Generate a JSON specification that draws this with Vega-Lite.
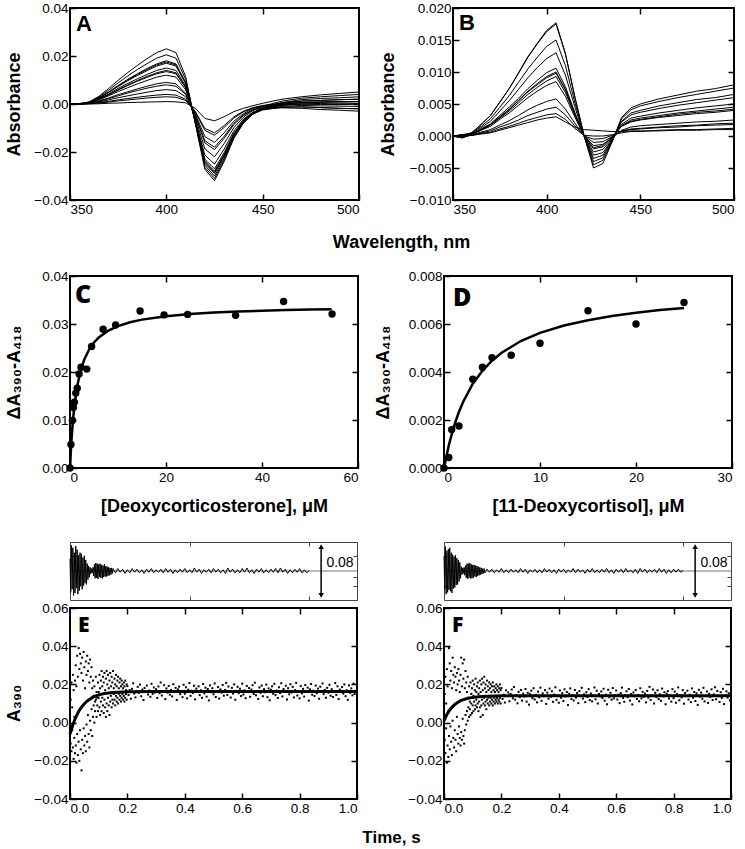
{
"$schema":"https://vega.github.io/schema/vega-lite/v6.json",
"padding":{"left":4,"top":0,"right":0,"bottom":0},
"background":"white",
"config":{"view":{"stroke":"black","strokeWidth":2},"font":"Liberation Sans",
"axis":{"domain":false,"grid":false,"ticks":true,"tickSize":-6,"tickWidth":1.5,"tickColor":"black","labelPadding":8,"labelFont":"Liberation Sans","labelFontSize":13.5,"labelColor":"black","titleFont":"Liberation Sans","titleFontSize":18,"titleFontWeight":"bold","titleColor":"black"}},
"datasets":{
"specA":[
{"c":1,"w":350,"y":0},{"c":1,"w":355,"y":0.0002},{"c":1,"w":360,"y":0.0009},{"c":1,"w":365,"y":0.0032},{"c":1,"w":370,"y":0.0064},{"c":1,"w":375,"y":0.0099},{"c":1,"w":380,"y":0.0131},{"c":1,"w":385,"y":0.0161},{"c":1,"w":390,"y":0.0189},{"c":1,"w":395,"y":0.0214},{"c":1,"w":400,"y":0.023},{"c":1,"w":405,"y":0.0214},{"c":1,"w":410,"y":0.0115},{"c":1,"w":415,"y":-0.008},{"c":1,"w":420,"y":-0.0272},{"c":1,"w":425,"y":-0.032},{"c":1,"w":430,"y":-0.024},{"c":1,"w":435,"y":-0.0144},{"c":1,"w":440,"y":-0.008},{"c":1,"w":445,"y":-0.0042},{"c":1,"w":450,"y":-0.0022},{"c":1,"w":460,"y":-0.0006},{"c":1,"w":470,"y":0},{"c":1,"w":480,"y":0},{"c":1,"w":490,"y":-0.0003},{"c":1,"w":500,"y":0.0002},
{"c":2,"w":350,"y":0},{"c":2,"w":355,"y":-0.0002},{"c":2,"w":360,"y":0.0008},{"c":2,"w":365,"y":0.0029},{"c":2,"w":370,"y":0.0057},{"c":2,"w":375,"y":0.0088},{"c":2,"w":380,"y":0.0117},{"c":2,"w":385,"y":0.0144},{"c":2,"w":390,"y":0.0168},{"c":2,"w":395,"y":0.0191},{"c":2,"w":400,"y":0.0205},{"c":2,"w":405,"y":0.0191},{"c":2,"w":410,"y":0.0103},{"c":2,"w":415,"y":-0.0078},{"c":2,"w":420,"y":-0.0264},{"c":2,"w":425,"y":-0.031},{"c":2,"w":430,"y":-0.0233},{"c":2,"w":435,"y":-0.014},{"c":2,"w":440,"y":-0.0078},{"c":2,"w":445,"y":-0.0041},{"c":2,"w":450,"y":-0.0025},{"c":2,"w":460,"y":-0.0014},{"c":2,"w":470,"y":-0.0012},{"c":2,"w":480,"y":-0.0015},{"c":2,"w":490,"y":-0.0018},{"c":2,"w":500,"y":-0.002},
{"c":3,"w":350,"y":0},{"c":3,"w":355,"y":0.0001},{"c":3,"w":360,"y":0.0007},{"c":3,"w":365,"y":0.0025},{"c":3,"w":370,"y":0.005},{"c":3,"w":375,"y":0.0077},{"c":3,"w":380,"y":0.0103},{"c":3,"w":385,"y":0.0126},{"c":3,"w":390,"y":0.0148},{"c":3,"w":395,"y":0.0167},{"c":3,"w":400,"y":0.018},{"c":3,"w":405,"y":0.0167},{"c":3,"w":410,"y":0.009},{"c":3,"w":415,"y":-0.0075},{"c":3,"w":420,"y":-0.0255},{"c":3,"w":425,"y":-0.03},{"c":3,"w":430,"y":-0.0225},{"c":3,"w":435,"y":-0.0135},{"c":3,"w":440,"y":-0.0075},{"c":3,"w":445,"y":-0.0038},{"c":3,"w":450,"y":-0.0017},{"c":3,"w":460,"y":0.0006},{"c":3,"w":470,"y":0.0018},{"c":3,"w":480,"y":0.0023},{"c":3,"w":490,"y":0.0026},{"c":3,"w":500,"y":0.003},
{"c":4,"w":350,"y":0},{"c":4,"w":355,"y":0},{"c":4,"w":360,"y":0.0007},{"c":4,"w":365,"y":0.0025},{"c":4,"w":370,"y":0.0049},{"c":4,"w":375,"y":0.0075},{"c":4,"w":380,"y":0.01},{"c":4,"w":385,"y":0.0123},{"c":4,"w":390,"y":0.0144},{"c":4,"w":395,"y":0.0163},{"c":4,"w":400,"y":0.0175},{"c":4,"w":405,"y":0.0163},{"c":4,"w":410,"y":0.0088},{"c":4,"w":415,"y":-0.0073},{"c":4,"w":420,"y":-0.0247},{"c":4,"w":425,"y":-0.029},{"c":4,"w":430,"y":-0.0218},{"c":4,"w":435,"y":-0.0131},{"c":4,"w":440,"y":-0.0073},{"c":4,"w":445,"y":-0.0037},{"c":4,"w":450,"y":-0.0019},{"c":4,"w":460,"y":-0.0002},{"c":4,"w":470,"y":0.0006},{"c":4,"w":480,"y":0.0008},{"c":4,"w":490,"y":0.0009},{"c":4,"w":500,"y":0.001},
{"c":5,"w":350,"y":0},{"c":5,"w":355,"y":-0.0001},{"c":5,"w":360,"y":0.0007},{"c":5,"w":365,"y":0.0024},{"c":5,"w":370,"y":0.0048},{"c":5,"w":375,"y":0.0073},{"c":5,"w":380,"y":0.0097},{"c":5,"w":385,"y":0.0119},{"c":5,"w":390,"y":0.0139},{"c":5,"w":395,"y":0.0158},{"c":5,"w":400,"y":0.017},{"c":5,"w":405,"y":0.0158},{"c":5,"w":410,"y":0.0085},{"c":5,"w":415,"y":-0.0071},{"c":5,"w":420,"y":-0.0242},{"c":5,"w":425,"y":-0.0285},{"c":5,"w":430,"y":-0.0214},{"c":5,"w":435,"y":-0.0128},{"c":5,"w":440,"y":-0.0071},{"c":5,"w":445,"y":-0.0038},{"c":5,"w":450,"y":-0.0022},{"c":5,"w":460,"y":-0.001},{"c":5,"w":470,"y":-0.0006},{"c":5,"w":480,"y":-0.0008},{"c":5,"w":490,"y":-0.0009},{"c":5,"w":500,"y":-0.001},
{"c":6,"w":350,"y":0},{"c":6,"w":355,"y":0.0002},{"c":6,"w":360,"y":0.0006},{"c":6,"w":365,"y":0.0021},{"c":6,"w":370,"y":0.0042},{"c":6,"w":375,"y":0.0065},{"c":6,"w":380,"y":0.0086},{"c":6,"w":385,"y":0.0105},{"c":6,"w":390,"y":0.0123},{"c":6,"w":395,"y":0.014},{"c":6,"w":400,"y":0.015},{"c":6,"w":405,"y":0.014},{"c":6,"w":410,"y":0.0075},{"c":6,"w":415,"y":-0.007},{"c":6,"w":420,"y":-0.0238},{"c":6,"w":425,"y":-0.028},{"c":6,"w":430,"y":-0.021},{"c":6,"w":435,"y":-0.0126},{"c":6,"w":440,"y":-0.007},{"c":6,"w":445,"y":-0.0035},{"c":6,"w":450,"y":-0.0017},{"c":6,"w":460,"y":0.0002},{"c":6,"w":470,"y":0.0012},{"c":6,"w":480,"y":0.0015},{"c":6,"w":490,"y":0.0018},{"c":6,"w":500,"y":0.002},
{"c":7,"w":350,"y":0},{"c":7,"w":355,"y":0},{"c":7,"w":360,"y":0.0006},{"c":7,"w":365,"y":0.002},{"c":7,"w":370,"y":0.0039},{"c":7,"w":375,"y":0.006},{"c":7,"w":380,"y":0.008},{"c":7,"w":385,"y":0.0098},{"c":7,"w":390,"y":0.0115},{"c":7,"w":395,"y":0.013},{"c":7,"w":400,"y":0.014},{"c":7,"w":405,"y":0.013},{"c":7,"w":410,"y":0.007},{"c":7,"w":415,"y":-0.0068},{"c":7,"w":420,"y":-0.023},{"c":7,"w":425,"y":-0.027},{"c":7,"w":430,"y":-0.0203},{"c":7,"w":435,"y":-0.0122},{"c":7,"w":440,"y":-0.0068},{"c":7,"w":445,"y":-0.0035},{"c":7,"w":450,"y":-0.0019},{"c":7,"w":460,"y":-0.0005},{"c":7,"w":470,"y":0},{"c":7,"w":480,"y":0.0002},{"c":7,"w":490,"y":-0.0001},{"c":7,"w":500,"y":0},
{"c":8,"w":350,"y":0},{"c":8,"w":355,"y":-0.0002},{"c":8,"w":360,"y":0.0005},{"c":8,"w":365,"y":0.0019},{"c":8,"w":370,"y":0.0038},{"c":8,"w":375,"y":0.0058},{"c":8,"w":380,"y":0.0077},{"c":8,"w":385,"y":0.0095},{"c":8,"w":390,"y":0.0111},{"c":8,"w":395,"y":0.0126},{"c":8,"w":400,"y":0.0135},{"c":8,"w":405,"y":0.0126},{"c":8,"w":410,"y":0.0068},{"c":8,"w":415,"y":-0.0063},{"c":8,"w":420,"y":-0.0213},{"c":8,"w":425,"y":-0.025},{"c":8,"w":430,"y":-0.0188},{"c":8,"w":435,"y":-0.0113},{"c":8,"w":440,"y":-0.0063},{"c":8,"w":445,"y":-0.0034},{"c":8,"w":450,"y":-0.0021},{"c":8,"w":460,"y":-0.0013},{"c":8,"w":470,"y":-0.0012},{"c":8,"w":480,"y":-0.0015},{"c":8,"w":490,"y":-0.0018},{"c":8,"w":500,"y":-0.002},
{"c":9,"w":350,"y":0},{"c":9,"w":355,"y":0.0001},{"c":9,"w":360,"y":0.0005},{"c":9,"w":365,"y":0.0017},{"c":9,"w":370,"y":0.0034},{"c":9,"w":375,"y":0.0052},{"c":9,"w":380,"y":0.0068},{"c":9,"w":385,"y":0.0084},{"c":9,"w":390,"y":0.0098},{"c":9,"w":395,"y":0.0112},{"c":9,"w":400,"y":0.012},{"c":9,"w":405,"y":0.0112},{"c":9,"w":410,"y":0.006},{"c":9,"w":415,"y":-0.0055},{"c":9,"w":420,"y":-0.0187},{"c":9,"w":425,"y":-0.022},{"c":9,"w":430,"y":-0.0165},{"c":9,"w":435,"y":-0.0099},{"c":9,"w":440,"y":-0.0055},{"c":9,"w":445,"y":-0.0027},{"c":9,"w":450,"y":-0.0009},{"c":9,"w":460,"y":0.0012},{"c":9,"w":470,"y":0.0024},{"c":9,"w":480,"y":0.003},{"c":9,"w":490,"y":0.0035},{"c":9,"w":500,"y":0.004},
{"c":10,"w":350,"y":0},{"c":10,"w":355,"y":0},{"c":10,"w":360,"y":0.0004},{"c":10,"w":365,"y":0.0013},{"c":10,"w":370,"y":0.0025},{"c":10,"w":375,"y":0.0039},{"c":10,"w":380,"y":0.0051},{"c":10,"w":385,"y":0.0063},{"c":10,"w":390,"y":0.0074},{"c":10,"w":395,"y":0.0084},{"c":10,"w":400,"y":0.009},{"c":10,"w":405,"y":0.0084},{"c":10,"w":410,"y":0.0045},{"c":10,"w":415,"y":-0.0048},{"c":10,"w":420,"y":-0.0162},{"c":10,"w":425,"y":-0.019},{"c":10,"w":430,"y":-0.0143},{"c":10,"w":435,"y":-0.0086},{"c":10,"w":440,"y":-0.0048},{"c":10,"w":445,"y":-0.0024},{"c":10,"w":450,"y":-0.0012},{"c":10,"w":460,"y":0},{"c":10,"w":470,"y":0.0006},{"c":10,"w":480,"y":0.0008},{"c":10,"w":490,"y":0.0009},{"c":10,"w":500,"y":0.001},
{"c":11,"w":350,"y":0},{"c":11,"w":355,"y":-0.0001},{"c":11,"w":360,"y":0.0003},{"c":11,"w":365,"y":0.0011},{"c":11,"w":370,"y":0.0022},{"c":11,"w":375,"y":0.0034},{"c":11,"w":380,"y":0.0046},{"c":11,"w":385,"y":0.0056},{"c":11,"w":390,"y":0.0066},{"c":11,"w":395,"y":0.0074},{"c":11,"w":400,"y":0.008},{"c":11,"w":405,"y":0.0074},{"c":11,"w":410,"y":0.004},{"c":11,"w":415,"y":-0.0045},{"c":11,"w":420,"y":-0.0153},{"c":11,"w":425,"y":-0.018},{"c":11,"w":430,"y":-0.0135},{"c":11,"w":435,"y":-0.0081},{"c":11,"w":440,"y":-0.0045},{"c":11,"w":445,"y":-0.0025},{"c":11,"w":450,"y":-0.0017},{"c":11,"w":460,"y":-0.0016},{"c":11,"w":470,"y":-0.0018},{"c":11,"w":480,"y":-0.0023},{"c":11,"w":490,"y":-0.0026},{"c":11,"w":500,"y":-0.003},
{"c":12,"w":350,"y":0},{"c":12,"w":355,"y":0.0001},{"c":12,"w":360,"y":0.0002},{"c":12,"w":365,"y":0.0008},{"c":12,"w":370,"y":0.0017},{"c":12,"w":375,"y":0.0026},{"c":12,"w":380,"y":0.0034},{"c":12,"w":385,"y":0.0042},{"c":12,"w":390,"y":0.0049},{"c":12,"w":395,"y":0.0056},{"c":12,"w":400,"y":0.006},{"c":12,"w":405,"y":0.0056},{"c":12,"w":410,"y":0.003},{"c":12,"w":415,"y":-0.004},{"c":12,"w":420,"y":-0.0136},{"c":12,"w":425,"y":-0.016},{"c":12,"w":430,"y":-0.012},{"c":12,"w":435,"y":-0.0072},{"c":12,"w":440,"y":-0.004},{"c":12,"w":445,"y":-0.002},{"c":12,"w":450,"y":-0.0008},{"c":12,"w":460,"y":0.0005},{"c":12,"w":470,"y":0.0012},{"c":12,"w":480,"y":0.0015},{"c":12,"w":490,"y":0.0018},{"c":12,"w":500,"y":0.002},
{"c":13,"w":350,"y":0},{"c":13,"w":355,"y":0},{"c":13,"w":360,"y":0.0002},{"c":13,"w":365,"y":0.0006},{"c":13,"w":370,"y":0.0011},{"c":13,"w":375,"y":0.0017},{"c":13,"w":380,"y":0.0023},{"c":13,"w":385,"y":0.0028},{"c":13,"w":390,"y":0.0033},{"c":13,"w":395,"y":0.0037},{"c":13,"w":400,"y":0.004},{"c":13,"w":405,"y":0.0037},{"c":13,"w":410,"y":0.002},{"c":13,"w":415,"y":-0.0033},{"c":13,"w":420,"y":-0.011},{"c":13,"w":425,"y":-0.013},{"c":13,"w":430,"y":-0.0098},{"c":13,"w":435,"y":-0.0059},{"c":13,"w":440,"y":-0.0033},{"c":13,"w":445,"y":-0.0017},{"c":13,"w":450,"y":-0.0009},{"c":13,"w":460,"y":-0.0003},{"c":13,"w":470,"y":0},{"c":13,"w":480,"y":-0.0002},{"c":13,"w":490,"y":0.0001},{"c":13,"w":500,"y":0},
{"c":14,"w":350,"y":0},{"c":14,"w":355,"y":-0.0001},{"c":14,"w":360,"y":0.0001},{"c":14,"w":365,"y":0.0004},{"c":14,"w":370,"y":0.0008},{"c":14,"w":375,"y":0.0013},{"c":14,"w":380,"y":0.0017},{"c":14,"w":385,"y":0.0021},{"c":14,"w":390,"y":0.0025},{"c":14,"w":395,"y":0.0028},{"c":14,"w":400,"y":0.003},{"c":14,"w":405,"y":0.0028},{"c":14,"w":410,"y":0.0015},{"c":14,"w":415,"y":-0.003},{"c":14,"w":420,"y":-0.0102},{"c":14,"w":425,"y":-0.012},{"c":14,"w":430,"y":-0.009},{"c":14,"w":435,"y":-0.0054},{"c":14,"w":440,"y":-0.003},{"c":14,"w":445,"y":-0.0015},{"c":14,"w":450,"y":-0.0006},{"c":14,"w":460,"y":0.0002},{"c":14,"w":470,"y":0.0006},{"c":14,"w":480,"y":0.0008},{"c":14,"w":490,"y":0.0009},{"c":14,"w":500,"y":0.001},
{"c":15,"w":350,"y":0},{"c":15,"w":355,"y":0.0001},{"c":15,"w":360,"y":0},{"c":15,"w":365,"y":0.0001},{"c":15,"w":370,"y":0.0003},{"c":15,"w":375,"y":0.0004},{"c":15,"w":380,"y":0.0006},{"c":15,"w":385,"y":0.0007},{"c":15,"w":390,"y":0.0008},{"c":15,"w":395,"y":0.0009},{"c":15,"w":400,"y":0.001},{"c":15,"w":405,"y":0.0009},{"c":15,"w":410,"y":0.0005},{"c":15,"w":415,"y":-0.0018},{"c":15,"w":420,"y":-0.006},{"c":15,"w":425,"y":-0.007},{"c":15,"w":430,"y":-0.0053},{"c":15,"w":435,"y":-0.0032},{"c":15,"w":440,"y":-0.0018},{"c":15,"w":445,"y":-0.0007},{"c":15,"w":450,"y":0.0003},{"c":15,"w":460,"y":0.002},{"c":15,"w":470,"y":0.003},{"c":15,"w":480,"y":0.0038},{"c":15,"w":490,"y":0.0044},{"c":15,"w":500,"y":0.005}
],
"specB":[
{"c":1,"w":350,"y":0},{"c":1,"w":355,"y":-0.0003},{"c":1,"w":360,"y":0.0005},{"c":1,"w":365,"y":0.0018},{"c":1,"w":370,"y":0.0032},{"c":1,"w":375,"y":0.0053},{"c":1,"w":380,"y":0.0074},{"c":1,"w":385,"y":0.0099},{"c":1,"w":390,"y":0.0124},{"c":1,"w":395,"y":0.0145},{"c":1,"w":400,"y":0.0165},{"c":1,"w":405,"y":0.0177},{"c":1,"w":410,"y":0.0129},{"c":1,"w":415,"y":0.0062},{"c":1,"w":420,"y":0},{"c":1,"w":425,"y":-0.005},{"c":1,"w":430,"y":-0.0043},{"c":1,"w":435,"y":-0.0009},{"c":1,"w":440,"y":0.0029},{"c":1,"w":445,"y":0.0044},{"c":1,"w":450,"y":0.005},{"c":1,"w":460,"y":0.0058},{"c":1,"w":470,"y":0.0064},{"c":1,"w":480,"y":0.007},{"c":1,"w":490,"y":0.0074},{"c":1,"w":500,"y":0.008},
{"c":2,"w":350,"y":0},{"c":2,"w":355,"y":0.0002},{"c":2,"w":360,"y":0.0005},{"c":2,"w":365,"y":0.0018},{"c":2,"w":370,"y":0.0032},{"c":2,"w":375,"y":0.0053},{"c":2,"w":380,"y":0.0074},{"c":2,"w":385,"y":0.0098},{"c":2,"w":390,"y":0.0123},{"c":2,"w":395,"y":0.0144},{"c":2,"w":400,"y":0.0163},{"c":2,"w":405,"y":0.0175},{"c":2,"w":410,"y":0.0128},{"c":2,"w":415,"y":0.0061},{"c":2,"w":420,"y":0},{"c":2,"w":425,"y":-0.0045},{"c":2,"w":430,"y":-0.0038},{"c":2,"w":435,"y":-0.0008},{"c":2,"w":440,"y":0.0027},{"c":2,"w":445,"y":0.0041},{"c":2,"w":450,"y":0.0047},{"c":2,"w":460,"y":0.0054},{"c":2,"w":470,"y":0.006},{"c":2,"w":480,"y":0.0065},{"c":2,"w":490,"y":0.007},{"c":2,"w":500,"y":0.0075},
{"c":3,"w":350,"y":0},{"c":3,"w":355,"y":-0.0002},{"c":3,"w":360,"y":0.0005},{"c":3,"w":365,"y":0.0015},{"c":3,"w":370,"y":0.0027},{"c":3,"w":375,"y":0.0045},{"c":3,"w":380,"y":0.0063},{"c":3,"w":385,"y":0.0084},{"c":3,"w":390,"y":0.0105},{"c":3,"w":395,"y":0.0123},{"c":3,"w":400,"y":0.014},{"c":3,"w":405,"y":0.015},{"c":3,"w":410,"y":0.011},{"c":3,"w":415,"y":0.0053},{"c":3,"w":420,"y":0},{"c":3,"w":425,"y":-0.004},{"c":3,"w":430,"y":-0.0034},{"c":3,"w":435,"y":-0.0007},{"c":3,"w":440,"y":0.0023},{"c":3,"w":445,"y":0.0036},{"c":3,"w":450,"y":0.004},{"c":3,"w":460,"y":0.0047},{"c":3,"w":470,"y":0.0052},{"c":3,"w":480,"y":0.0057},{"c":3,"w":490,"y":0.006},{"c":3,"w":500,"y":0.0065},
{"c":4,"w":350,"y":0},{"c":4,"w":355,"y":0.0001},{"c":4,"w":360,"y":0.0004},{"c":4,"w":365,"y":0.0013},{"c":4,"w":370,"y":0.0023},{"c":4,"w":375,"y":0.0039},{"c":4,"w":380,"y":0.0055},{"c":4,"w":385,"y":0.0073},{"c":4,"w":390,"y":0.0091},{"c":4,"w":395,"y":0.0107},{"c":4,"w":400,"y":0.0121},{"c":4,"w":405,"y":0.013},{"c":4,"w":410,"y":0.0095},{"c":4,"w":415,"y":0.0046},{"c":4,"w":420,"y":0},{"c":4,"w":425,"y":-0.0035},{"c":4,"w":430,"y":-0.003},{"c":4,"w":435,"y":-0.0006},{"c":4,"w":440,"y":0.0022},{"c":4,"w":445,"y":0.0033},{"c":4,"w":450,"y":0.0037},{"c":4,"w":460,"y":0.0043},{"c":4,"w":470,"y":0.0048},{"c":4,"w":480,"y":0.0052},{"c":4,"w":490,"y":0.0056},{"c":4,"w":500,"y":0.006},
{"c":5,"w":350,"y":0},{"c":5,"w":355,"y":-0.0001},{"c":5,"w":360,"y":0.0003},{"c":5,"w":365,"y":0.0011},{"c":5,"w":370,"y":0.0019},{"c":5,"w":375,"y":0.0032},{"c":5,"w":380,"y":0.0045},{"c":5,"w":385,"y":0.0059},{"c":5,"w":390,"y":0.0074},{"c":5,"w":395,"y":0.0087},{"c":5,"w":400,"y":0.0099},{"c":5,"w":405,"y":0.0106},{"c":5,"w":410,"y":0.0077},{"c":5,"w":415,"y":0.0037},{"c":5,"w":420,"y":0},{"c":5,"w":425,"y":-0.003},{"c":5,"w":430,"y":-0.0026},{"c":5,"w":435,"y":-0.0005},{"c":5,"w":440,"y":0.0018},{"c":5,"w":445,"y":0.0028},{"c":5,"w":450,"y":0.0031},{"c":5,"w":460,"y":0.0036},{"c":5,"w":470,"y":0.004},{"c":5,"w":480,"y":0.0044},{"c":5,"w":490,"y":0.0047},{"c":5,"w":500,"y":0.005},
{"c":6,"w":350,"y":0},{"c":6,"w":355,"y":0.0002},{"c":6,"w":360,"y":0.0003},{"c":6,"w":365,"y":0.001},{"c":6,"w":370,"y":0.0018},{"c":6,"w":375,"y":0.003},{"c":6,"w":380,"y":0.0042},{"c":6,"w":385,"y":0.0056},{"c":6,"w":390,"y":0.007},{"c":6,"w":395,"y":0.0082},{"c":6,"w":400,"y":0.0093},{"c":6,"w":405,"y":0.01},{"c":6,"w":410,"y":0.0073},{"c":6,"w":415,"y":0.0035},{"c":6,"w":420,"y":0},{"c":6,"w":425,"y":-0.0025},{"c":6,"w":430,"y":-0.0021},{"c":6,"w":435,"y":-0.0004},{"c":6,"w":440,"y":0.0016},{"c":6,"w":445,"y":0.0025},{"c":6,"w":450,"y":0.0028},{"c":6,"w":460,"y":0.0032},{"c":6,"w":470,"y":0.0036},{"c":6,"w":480,"y":0.0039},{"c":6,"w":490,"y":0.0042},{"c":6,"w":500,"y":0.0045},
{"c":7,"w":350,"y":0},{"c":7,"w":355,"y":-0.0002},{"c":7,"w":360,"y":0.0003},{"c":7,"w":365,"y":0.001},{"c":7,"w":370,"y":0.0018},{"c":7,"w":375,"y":0.0029},{"c":7,"w":380,"y":0.0041},{"c":7,"w":385,"y":0.0055},{"c":7,"w":390,"y":0.0069},{"c":7,"w":395,"y":0.008},{"c":7,"w":400,"y":0.0091},{"c":7,"w":405,"y":0.0098},{"c":7,"w":410,"y":0.0072},{"c":7,"w":415,"y":0.0034},{"c":7,"w":420,"y":0},{"c":7,"w":425,"y":-0.002},{"c":7,"w":430,"y":-0.0017},{"c":7,"w":435,"y":-0.0002},{"c":7,"w":440,"y":0.0016},{"c":7,"w":445,"y":0.0023},{"c":7,"w":450,"y":0.0026},{"c":7,"w":460,"y":0.003},{"c":7,"w":470,"y":0.0034},{"c":7,"w":480,"y":0.0037},{"c":7,"w":490,"y":0.0039},{"c":7,"w":500,"y":0.0042},
{"c":8,"w":350,"y":0},{"c":8,"w":355,"y":0.0001},{"c":8,"w":360,"y":0.0003},{"c":8,"w":365,"y":0.0009},{"c":8,"w":370,"y":0.0017},{"c":8,"w":375,"y":0.0028},{"c":8,"w":380,"y":0.0039},{"c":8,"w":385,"y":0.0052},{"c":8,"w":390,"y":0.0065},{"c":8,"w":395,"y":0.0076},{"c":8,"w":400,"y":0.0086},{"c":8,"w":405,"y":0.0093},{"c":8,"w":410,"y":0.0068},{"c":8,"w":415,"y":0.0033},{"c":8,"w":420,"y":0},{"c":8,"w":425,"y":-0.0018},{"c":8,"w":430,"y":-0.0015},{"c":8,"w":435,"y":-0.0001},{"c":8,"w":440,"y":0.0015},{"c":8,"w":445,"y":0.0022},{"c":8,"w":450,"y":0.0025},{"c":8,"w":460,"y":0.0029},{"c":8,"w":470,"y":0.0032},{"c":8,"w":480,"y":0.0035},{"c":8,"w":490,"y":0.0037},{"c":8,"w":500,"y":0.004},
{"c":9,"w":350,"y":0},{"c":9,"w":355,"y":0},{"c":9,"w":360,"y":0.0003},{"c":9,"w":365,"y":0.0009},{"c":9,"w":370,"y":0.0015},{"c":9,"w":375,"y":0.0026},{"c":9,"w":380,"y":0.0036},{"c":9,"w":385,"y":0.0048},{"c":9,"w":390,"y":0.006},{"c":9,"w":395,"y":0.007},{"c":9,"w":400,"y":0.0079},{"c":9,"w":405,"y":0.0085},{"c":9,"w":410,"y":0.0062},{"c":9,"w":415,"y":0.003},{"c":9,"w":420,"y":0},{"c":9,"w":425,"y":-0.0015},{"c":9,"w":430,"y":-0.0013},{"c":9,"w":435,"y":-0.0003},{"c":9,"w":440,"y":0.0009},{"c":9,"w":445,"y":0.0014},{"c":9,"w":450,"y":0.0016},{"c":9,"w":460,"y":0.0018},{"c":9,"w":470,"y":0.002},{"c":9,"w":480,"y":0.0022},{"c":9,"w":490,"y":0.0023},{"c":9,"w":500,"y":0.0025},
{"c":10,"w":350,"y":0},{"c":10,"w":355,"y":-0.0003},{"c":10,"w":360,"y":0.0002},{"c":10,"w":365,"y":0.0006},{"c":10,"w":370,"y":0.001},{"c":10,"w":375,"y":0.0017},{"c":10,"w":380,"y":0.0024},{"c":10,"w":385,"y":0.0032},{"c":10,"w":390,"y":0.0041},{"c":10,"w":395,"y":0.0048},{"c":10,"w":400,"y":0.0054},{"c":10,"w":405,"y":0.0058},{"c":10,"w":410,"y":0.0042},{"c":10,"w":415,"y":0.002},{"c":10,"w":420,"y":0},{"c":10,"w":425,"y":-0.001},{"c":10,"w":430,"y":-0.0009},{"c":10,"w":435,"y":-0.0001},{"c":10,"w":440,"y":0.0008},{"c":10,"w":445,"y":0.0011},{"c":10,"w":450,"y":0.0012},{"c":10,"w":460,"y":0.0014},{"c":10,"w":470,"y":0.0016},{"c":10,"w":480,"y":0.0017},{"c":10,"w":490,"y":0.0019},{"c":10,"w":500,"y":0.002},
{"c":11,"w":350,"y":0},{"c":11,"w":355,"y":0.0002},{"c":11,"w":360,"y":0.0001},{"c":11,"w":365,"y":0.0005},{"c":11,"w":370,"y":0.0008},{"c":11,"w":375,"y":0.0014},{"c":11,"w":380,"y":0.0019},{"c":11,"w":385,"y":0.0025},{"c":11,"w":390,"y":0.0032},{"c":11,"w":395,"y":0.0037},{"c":11,"w":400,"y":0.0042},{"c":11,"w":405,"y":0.0045},{"c":11,"w":410,"y":0.0033},{"c":11,"w":415,"y":0.0016},{"c":11,"w":420,"y":0},{"c":11,"w":425,"y":-0.0005},{"c":11,"w":430,"y":-0.0004},{"c":11,"w":435,"y":0.0001},{"c":11,"w":440,"y":0.0007},{"c":11,"w":445,"y":0.001},{"c":11,"w":450,"y":0.0011},{"c":11,"w":460,"y":0.0013},{"c":11,"w":470,"y":0.0014},{"c":11,"w":480,"y":0.0016},{"c":11,"w":490,"y":0.0017},{"c":11,"w":500,"y":0.0018},
{"c":12,"w":350,"y":0},{"c":12,"w":355,"y":-0.0001},{"c":12,"w":360,"y":0.0001},{"c":12,"w":365,"y":0.0004},{"c":12,"w":370,"y":0.0006},{"c":12,"w":375,"y":0.0011},{"c":12,"w":380,"y":0.0015},{"c":12,"w":385,"y":0.002},{"c":12,"w":390,"y":0.0025},{"c":12,"w":395,"y":0.0029},{"c":12,"w":400,"y":0.0033},{"c":12,"w":405,"y":0.0035},{"c":12,"w":410,"y":0.0026},{"c":12,"w":415,"y":0.0012},{"c":12,"w":420,"y":0.0001},{"c":12,"w":425,"y":0},{"c":12,"w":430,"y":0},{"c":12,"w":435,"y":0.0002},{"c":12,"w":440,"y":0.0005},{"c":12,"w":445,"y":0.0007},{"c":12,"w":450,"y":0.0007},{"c":12,"w":460,"y":0.0009},{"c":12,"w":470,"y":0.001},{"c":12,"w":480,"y":0.001},{"c":12,"w":490,"y":0.0011},{"c":12,"w":500,"y":0.0012},
{"c":13,"w":350,"y":0},{"c":13,"w":355,"y":0.0001},{"c":13,"w":360,"y":0.0001},{"c":13,"w":365,"y":0.0003},{"c":13,"w":370,"y":0.0005},{"c":13,"w":375,"y":0.0009},{"c":13,"w":380,"y":0.0013},{"c":13,"w":385,"y":0.0017},{"c":13,"w":390,"y":0.0021},{"c":13,"w":395,"y":0.0025},{"c":13,"w":400,"y":0.0028},{"c":13,"w":405,"y":0.003},{"c":13,"w":410,"y":0.0022},{"c":13,"w":415,"y":0.0014},{"c":13,"w":420,"y":0.001},{"c":13,"w":425,"y":0.0009},{"c":13,"w":430,"y":0.0008},{"c":13,"w":435,"y":0.0007},{"c":13,"w":440,"y":0.0007},{"c":13,"w":445,"y":0.0008},{"c":13,"w":450,"y":0.0008},{"c":13,"w":460,"y":0.0008},{"c":13,"w":470,"y":0.0009},{"c":13,"w":480,"y":0.0009},{"c":13,"w":490,"y":0.001},{"c":13,"w":500,"y":0.001}
],
"ptsC":[{"x":0,"y":0},{"x":0.2,"y":0.0049},{"x":0.5,"y":0.0099},{"x":0.7,"y":0.0126},{"x":0.9,"y":0.0137},{"x":1.2,"y":0.0156},{"x":1.5,"y":0.0166},{"x":1.9,"y":0.0196},{"x":2.3,"y":0.021},{"x":3.5,"y":0.0206},{"x":4.5,"y":0.0253},{"x":6.9,"y":0.0289},{"x":9.5,"y":0.0298},{"x":14.6,"y":0.0327},{"x":19.6,"y":0.0319},{"x":24.5,"y":0.032},{"x":34.5,"y":0.0318},{"x":44.5,"y":0.0347},{"x":54.6,"y":0.0321}],
"fitC":[{"x":0,"y":0},{"x":0.25,"y":0.00486},{"x":0.5,"y":0.0085},{"x":0.75,"y":0.01133},{"x":1,"y":0.0136},{"x":1.5,"y":0.017},{"x":2,"y":0.01943},{"x":2.5,"y":0.02125},{"x":3,"y":0.02267},{"x":4,"y":0.02473},{"x":5,"y":0.02615},{"x":6,"y":0.0272},{"x":8,"y":0.02863},{"x":10,"y":0.02957},{"x":12.5,"y":0.03036},{"x":15,"y":0.03091},{"x":20,"y":0.03163},{"x":25,"y":0.03208},{"x":30,"y":0.03238},{"x":35,"y":0.0326},{"x":40,"y":0.03277},{"x":45,"y":0.0329},{"x":50,"y":0.03301},{"x":54.5,"y":0.03309}],
"ptsD":[{"x":0,"y":0},{"x":0.5,"y":0.00044},{"x":0.8,"y":0.0016},{"x":1.56,"y":0.00175},{"x":3,"y":0.0037},{"x":4,"y":0.0042},{"x":5,"y":0.0046},{"x":7,"y":0.0047},{"x":10,"y":0.0052},{"x":15,"y":0.00655},{"x":20,"y":0.006},{"x":25,"y":0.0069}],
"fitD":[{"x":0,"y":0},{"x":0.5,"y":0.00095},{"x":1,"y":0.00169},{"x":1.5,"y":0.00228},{"x":2,"y":0.00276},{"x":3,"y":0.00351},{"x":4,"y":0.00405},{"x":5,"y":0.00447},{"x":6,"y":0.0048},{"x":8,"y":0.00529},{"x":10,"y":0.00563},{"x":12.5,"y":0.00594},{"x":15,"y":0.00616},{"x":17.5,"y":0.00633},{"x":20,"y":0.00647},{"x":22.5,"y":0.00658},{"x":25,"y":0.00667}],
"fitE":[{"t":0,"y":-0.006},{"t":0.01,"y":-0.0011},{"t":0.02,"y":0.0028},{"t":0.03,"y":0.0058},{"t":0.04,"y":0.0081},{"t":0.05,"y":0.0099},{"t":0.06,"y":0.0113},{"t":0.08,"y":0.0133},{"t":0.1,"y":0.0145},{"t":0.12,"y":0.0152},{"t":0.15,"y":0.0158},{"t":0.2,"y":0.0161},{"t":0.3,"y":0.0163},{"t":1,"y":0.0163}],
"fitF":[{"t":0,"y":0.001},{"t":0.01,"y":0.0042},{"t":0.02,"y":0.0066},{"t":0.03,"y":0.0084},{"t":0.04,"y":0.0098},{"t":0.05,"y":0.0108},{"t":0.06,"y":0.0116},{"t":0.08,"y":0.0126},{"t":0.1,"y":0.0132},{"t":0.12,"y":0.0135},{"t":0.15,"y":0.0138},{"t":0.2,"y":0.014},{"t":1,"y":0.014}],
"scatE":[
{"t":0.0025,"y":0.012},{"t":0.0025,"y":-0.011},{"t":0.005,"y":0.021},{"t":0.005,"y":-0.015},{"t":0.0075,"y":0.008},{"t":0.0075,"y":-0.004},{"t":0.01,"y":0.025},{"t":0.01,"y":-0.013},{"t":0.0125,"y":0.017},{"t":0.0125,"y":-0.019},{"t":0.015,"y":0.003},{"t":0.015,"y":-0.008},{"t":0.0175,"y":0.022},{"t":0.0175,"y":-0.016},{"t":0.02,"y":0.03},{"t":0.02,"y":-0.012},{"t":0.0225,"y":0.019},{"t":0.0225,"y":-0.021},{"t":0.025,"y":0.035},{"t":0.025,"y":-0.006},{"t":0.0275,"y":0.024},{"t":0.0275,"y":-0.017},{"t":0.03,"y":0.039},{"t":0.03,"y":-0.01},{"t":0.0325,"y":0.028},{"t":0.0325,"y":-0.02},{"t":0.035,"y":0.036},{"t":0.035,"y":-0.004},{"t":0.0375,"y":0.031},{"t":0.0375,"y":-0.014},{"t":0.04,"y":0.026},{"t":0.04,"y":-0.025},{"t":0.0425,"y":0.034},{"t":0.0425,"y":-0.009},{"t":0.045,"y":0.022},{"t":0.045,"y":-0.016},{"t":0.0475,"y":0.037},{"t":0.0475,"y":-0.003},{"t":0.05,"y":0.029},{"t":0.05,"y":-0.012},{"t":0.0525,"y":0.018},{"t":0.0525,"y":-0.007},{"t":0.055,"y":0.032},{"t":0.055,"y":-0.015},{"t":0.0575,"y":0.025},{"t":0.0575,"y":-0.001},{"t":0.06,"y":0.035},{"t":0.06,"y":-0.01},{"t":0.0625,"y":0.027},{"t":0.0625,"y":0.004},{"t":0.065,"y":0.031},{"t":0.065,"y":-0.006},{"t":0.0675,"y":0.021},{"t":0.0675,"y":-0.013},{"t":0.07,"y":0.033},{"t":0.07,"y":0.001},{"t":0.0725,"y":0.024},{"t":0.0725,"y":-0.004},{"t":0.075,"y":0.029},{"t":0.075,"y":0.007},{"t":0.0775,"y":0.018},{"t":0.0775,"y":-0.007},{"t":0.08,"y":0.022},{"t":0.08,"y":0.003},{"t":0.0825,"y":0.014},{"t":0.0825,"y":0.009},{"t":0.085,"y":0.019},{"t":0.085,"y":0},{"t":0.0875,"y":0.011},{"t":0.0875,"y":0.006},{"t":0.09,"y":0.024},{"t":0.09,"y":0.012},{"t":0.0925,"y":0.016},{"t":0.0925,"y":0.003},{"t":0.095,"y":0.009},{"t":0.095,"y":0.013},{"t":0.0975,"y":0.021},{"t":0.0975,"y":0.006},{"t":0.1,"y":0.013},{"t":0.1,"y":0.016},{"t":0.1025,"y":0.025},{"t":0.1025,"y":0.008},{"t":0.105,"y":0.018},{"t":0.105,"y":0.004},{"t":0.1075,"y":0.022},{"t":0.1075,"y":0.011},{"t":0.11,"y":0.027},{"t":0.11,"y":0.006},{"t":0.1125,"y":0.019},{"t":0.1125,"y":0.013},{"t":0.115,"y":0.024},{"t":0.115,"y":0.009},{"t":0.1175,"y":0.021},{"t":0.1175,"y":0.005},{"t":0.12,"y":0.026},{"t":0.12,"y":0.012},{"t":0.1225,"y":0.017},{"t":0.1225,"y":0.008},{"t":0.125,"y":0.023},{"t":0.125,"y":0.003},{"t":0.1275,"y":0.027},{"t":0.1275,"y":0.01},{"t":0.13,"y":0.02},{"t":0.13,"y":0.006},{"t":0.1325,"y":0.025},{"t":0.1325,"y":0.013},{"t":0.135,"y":0.018},{"t":0.135,"y":0.009},{"t":0.1375,"y":0.022},{"t":0.1375,"y":0.004},{"t":0.14,"y":0.026},{"t":0.14,"y":0.011},{"t":0.1425,"y":0.019},{"t":0.1425,"y":0.014},{"t":0.145,"y":0.024},{"t":0.145,"y":0.008},{"t":0.1475,"y":0.021},{"t":0.1475,"y":0.012},{"t":0.15,"y":0.027},{"t":0.15,"y":0.01},{"t":0.1525,"y":0.018},{"t":0.1525,"y":0.015},{"t":0.155,"y":0.023},{"t":0.155,"y":0.012},{"t":0.1575,"y":0.02},{"t":0.1575,"y":0.009},{"t":0.16,"y":0.025},{"t":0.16,"y":0.014},{"t":0.1625,"y":0.019},{"t":0.1625,"y":0.011},{"t":0.165,"y":0.022},{"t":0.165,"y":0.013},{"t":0.1675,"y":0.024},{"t":0.1675,"y":0.01},{"t":0.17,"y":0.018},{"t":0.17,"y":0.015},{"t":0.1725,"y":0.021},{"t":0.1725,"y":0.012},{"t":0.175,"y":0.023},{"t":0.175,"y":0.014},{"t":0.1775,"y":0.019},{"t":0.1775,"y":0.011},{"t":0.18,"y":0.022},{"t":0.18,"y":0.013},{"t":0.1825,"y":0.02},{"t":0.1825,"y":0.015},{"t":0.185,"y":0.018},{"t":0.185,"y":0.012},{"t":0.1875,"y":0.021},{"t":0.1875,"y":0.014},{"t":0.19,"y":0.019},{"t":0.19,"y":0.011},{"t":0.1925,"y":0.022},{"t":0.1925,"y":0.013},{"t":0.195,"y":0.017},{"t":0.195,"y":0.015},{"t":0.1975,"y":0.02},{"t":0.1975,"y":0.012},
{"t":0.2,"y":0.0191},{"t":0.204,"y":0.0144},{"t":0.208,"y":0.017},{"t":0.212,"y":0.0125},{"t":0.216,"y":0.0177},{"t":0.22,"y":0.0206},{"t":0.224,"y":0.0152},{"t":0.228,"y":0.0132},{"t":0.232,"y":0.0166},{"t":0.236,"y":0.0187},
{"t":0.24,"y":0.0156},{"t":0.244,"y":0.0199},{"t":0.248,"y":0.0138},{"t":0.252,"y":0.0173},{"t":0.256,"y":0.0118},{"t":0.26,"y":0.0181},{"t":0.264,"y":0.0161},{"t":0.268,"y":0.0194},{"t":0.272,"y":0.0147},{"t":0.276,"y":0.0168},
{"t":0.28,"y":0.0135},{"t":0.284,"y":0.0203},{"t":0.288,"y":0.015},{"t":0.292,"y":0.0184},{"t":0.296,"y":0.0158},{"t":0.3,"y":0.0175},{"t":0.304,"y":0.0129},{"t":0.308,"y":0.0189},{"t":0.312,"y":0.0154},{"t":0.316,"y":0.021},
{"t":0.32,"y":0.0142},{"t":0.324,"y":0.0164},{"t":0.328,"y":0.0196},{"t":0.332,"y":0.0123},{"t":0.336,"y":0.0179},{"t":0.34,"y":0.0157},{"t":0.344,"y":0.0192},{"t":0.348,"y":0.0146},{"t":0.352,"y":0.0171},{"t":0.356,"y":0.0137},
{"t":0.36,"y":0.0201},{"t":0.364,"y":0.016},{"t":0.368,"y":0.0182},{"t":0.372,"y":0.0119},{"t":0.376,"y":0.0174},{"t":0.38,"y":0.0188},{"t":0.384,"y":0.0149},{"t":0.388,"y":0.0165},{"t":0.392,"y":0.0133},{"t":0.396,"y":0.0198},
{"t":0.4,"y":0.0151},{"t":0.404,"y":0.0185},{"t":0.408,"y":0.0127},{"t":0.412,"y":0.0172},{"t":0.416,"y":0.0207},{"t":0.42,"y":0.014},{"t":0.424,"y":0.0167},{"t":0.428,"y":0.0155},{"t":0.432,"y":0.0193},{"t":0.436,"y":0.0122},
{"t":0.44,"y":0.0178},{"t":0.444,"y":0.0162},{"t":0.448,"y":0.019},{"t":0.452,"y":0.0144},{"t":0.456,"y":0.0169},{"t":0.46,"y":0.013},{"t":0.464,"y":0.0202},{"t":0.468,"y":0.0153},{"t":0.472,"y":0.0183},{"t":0.476,"y":0.0136},
{"t":0.48,"y":0.0176},{"t":0.484,"y":0.0116},{"t":0.488,"y":0.0195},{"t":0.492,"y":0.0159},{"t":0.496,"y":0.018},{"t":0.5,"y":0.0148},{"t":0.504,"y":0.0205},{"t":0.508,"y":0.0134},{"t":0.512,"y":0.0163},{"t":0.516,"y":0.0186},
{"t":0.52,"y":0.0126},{"t":0.524,"y":0.0174},{"t":0.528,"y":0.0157},{"t":0.532,"y":0.0197},{"t":0.536,"y":0.0141},{"t":0.54,"y":0.0171},{"t":0.544,"y":0.0208},{"t":0.548,"y":0.0145},{"t":0.552,"y":0.0189},{"t":0.556,"y":0.0161},
{"t":0.56,"y":0.0131},{"t":0.564,"y":0.0182},{"t":0.568,"y":0.0152},{"t":0.572,"y":0.02},{"t":0.576,"y":0.012},{"t":0.58,"y":0.0166},{"t":0.584,"y":0.0187},{"t":0.588,"y":0.0154},{"t":0.592,"y":0.0177},{"t":0.596,"y":0.0139},
{"t":0.6,"y":0.0204},{"t":0.604,"y":0.0147},{"t":0.608,"y":0.0169},{"t":0.612,"y":0.0128},{"t":0.616,"y":0.0192},{"t":0.62,"y":0.0162},{"t":0.624,"y":0.0181},{"t":0.628,"y":0.0135},{"t":0.632,"y":0.0173},{"t":0.636,"y":0.0196},
{"t":0.64,"y":0.015},{"t":0.644,"y":0.0209},{"t":0.648,"y":0.0143},{"t":0.652,"y":0.0165},{"t":0.656,"y":0.0124},{"t":0.66,"y":0.0184},{"t":0.664,"y":0.0156},{"t":0.668,"y":0.0194},{"t":0.672,"y":0.0138},{"t":0.676,"y":0.0175},
{"t":0.68,"y":0.0159},{"t":0.684,"y":0.0199},{"t":0.688,"y":0.0133},{"t":0.692,"y":0.0179},{"t":0.696,"y":0.0117},{"t":0.7,"y":0.0172},{"t":0.704,"y":0.019},{"t":0.708,"y":0.0151},{"t":0.712,"y":0.0203},{"t":0.716,"y":0.0144},
{"t":0.72,"y":0.0168},{"t":0.724,"y":0.0129},{"t":0.728,"y":0.0185},{"t":0.732,"y":0.0155},{"t":0.736,"y":0.0206},{"t":0.74,"y":0.0137},{"t":0.744,"y":0.0176},{"t":0.748,"y":0.0161},{"t":0.752,"y":0.0193},{"t":0.756,"y":0.0121},
{"t":0.76,"y":0.018},{"t":0.764,"y":0.0148},{"t":0.768,"y":0.0201},{"t":0.772,"y":0.0158},{"t":0.776,"y":0.0187},{"t":0.78,"y":0.0132},{"t":0.784,"y":0.017},{"t":0.788,"y":0.0208},{"t":0.792,"y":0.0142},{"t":0.796,"y":0.0164},
{"t":0.8,"y":0.0127},{"t":0.804,"y":0.0191},{"t":0.808,"y":0.0153},{"t":0.812,"y":0.0177},{"t":0.816,"y":0.0136},{"t":0.82,"y":0.0197},{"t":0.824,"y":0.016},{"t":0.828,"y":0.0183},{"t":0.832,"y":0.0115},{"t":0.836,"y":0.0174},
{"t":0.84,"y":0.0202},{"t":0.844,"y":0.0146},{"t":0.848,"y":0.0167},{"t":0.852,"y":0.0139},{"t":0.856,"y":0.0194},{"t":0.86,"y":0.0154},{"t":0.864,"y":0.0178},{"t":0.868,"y":0.0125},{"t":0.872,"y":0.0188},{"t":0.876,"y":0.0162},
{"t":0.88,"y":0.0205},{"t":0.884,"y":0.0149},{"t":0.888,"y":0.0171},{"t":0.892,"y":0.013},{"t":0.896,"y":0.0182},{"t":0.9,"y":0.0157},{"t":0.904,"y":0.0198},{"t":0.908,"y":0.0141},{"t":0.912,"y":0.0175},{"t":0.916,"y":0.0134},
{"t":0.92,"y":0.0165},{"t":0.924,"y":0.0207},{"t":0.928,"y":0.0145},{"t":0.932,"y":0.019},{"t":0.936,"y":0.0123},{"t":0.94,"y":0.0173},{"t":0.944,"y":0.016},{"t":0.948,"y":0.0186},{"t":0.952,"y":0.0152},{"t":0.956,"y":0.02},
{"t":0.96,"y":0.0138},{"t":0.964,"y":0.0169},{"t":0.968,"y":0.0119},{"t":0.972,"y":0.0195},{"t":0.976,"y":0.0156},{"t":0.98,"y":0.0179},{"t":0.984,"y":0.0143},{"t":0.988,"y":0.0204},{"t":0.992,"y":0.015},{"t":0.996,"y":0.0166},{"t":1,"y":0.0189}
],
"scatF":[
{"t":0.0025,"y":0.015},{"t":0.0025,"y":-0.009},{"t":0.005,"y":0.024},{"t":0.005,"y":-0.016},{"t":0.0075,"y":0.01},{"t":0.0075,"y":-0.003},{"t":0.01,"y":0.028},{"t":0.01,"y":-0.021},{"t":0.0125,"y":0.019},{"t":0.0125,"y":-0.012},{"t":0.015,"y":0.006},{"t":0.015,"y":-0.018},{"t":0.0175,"y":0.039},{"t":0.0175,"y":-0.007},{"t":0.02,"y":0.031},{"t":0.02,"y":-0.014},{"t":0.0225,"y":0.022},{"t":0.0225,"y":-0.002},{"t":0.025,"y":0.027},{"t":0.025,"y":-0.01},{"t":0.0275,"y":0.018},{"t":0.0275,"y":-0.017},{"t":0.03,"y":0.034},{"t":0.03,"y":0.001},{"t":0.0325,"y":0.025},{"t":0.0325,"y":-0.008},{"t":0.035,"y":0.021},{"t":0.035,"y":-0.013},{"t":0.0375,"y":0.029},{"t":0.0375,"y":-0.004},{"t":0.04,"y":0.024},{"t":0.04,"y":-0.009},{"t":0.0425,"y":0.017},{"t":0.0425,"y":-0.015},{"t":0.045,"y":0.026},{"t":0.045,"y":0.003},{"t":0.0475,"y":0.02},{"t":0.0475,"y":-0.006},{"t":0.05,"y":0.028},{"t":0.05,"y":-0.011},{"t":0.0525,"y":0.022},{"t":0.0525,"y":-0.002},{"t":0.055,"y":0.016},{"t":0.055,"y":-0.008},{"t":0.0575,"y":0.025},{"t":0.0575,"y":-0.012},{"t":0.06,"y":0.034},{"t":0.06,"y":-0.005},{"t":0.0625,"y":0.019},{"t":0.0625,"y":-0.009},{"t":0.065,"y":0.031},{"t":0.065,"y":0.002},{"t":0.0675,"y":0.023},{"t":0.0675,"y":-0.007},{"t":0.07,"y":0.033},{"t":0.07,"y":-0.011},{"t":0.0725,"y":0.018},{"t":0.0725,"y":-0.004},{"t":0.075,"y":0.027},{"t":0.075,"y":0.004},{"t":0.0775,"y":0.021},{"t":0.0775,"y":-0.001},{"t":0.08,"y":0.016},{"t":0.08,"y":0.006},{"t":0.0825,"y":0.024},{"t":0.0825,"y":0.001},{"t":0.085,"y":0.013},{"t":0.085,"y":0.008},{"t":0.0875,"y":0.019},{"t":0.0875,"y":0.003},{"t":0.09,"y":0.011},{"t":0.09,"y":0.007},{"t":0.0925,"y":0.021},{"t":0.0925,"y":0.004},{"t":0.095,"y":0.015},{"t":0.095,"y":0.01},{"t":0.0975,"y":0.018},{"t":0.0975,"y":0.005},{"t":0.1,"y":0.022},{"t":0.1,"y":0.009},{"t":0.1025,"y":0.014},{"t":0.1025,"y":0.006},{"t":0.105,"y":0.02},{"t":0.105,"y":0.011},{"t":0.1075,"y":0.017},{"t":0.1075,"y":0.007},{"t":0.11,"y":0.023},{"t":0.11,"y":0.009},{"t":0.1125,"y":0.016},{"t":0.1125,"y":0.012},{"t":0.115,"y":0.019},{"t":0.115,"y":0.008},{"t":0.1175,"y":0.021},{"t":0.1175,"y":0.01},{"t":0.12,"y":0.015},{"t":0.12,"y":0.006},{"t":0.1225,"y":0.018},{"t":0.1225,"y":0.011},{"t":0.125,"y":0.022},{"t":0.125,"y":0.008},{"t":0.1275,"y":0.016},{"t":0.1275,"y":0.003},{"t":0.13,"y":0.02},{"t":0.13,"y":0.009},{"t":0.1325,"y":0.023},{"t":0.1325,"y":0.012},{"t":0.135,"y":0.017},{"t":0.135,"y":0.004},{"t":0.1375,"y":0.021},{"t":0.1375,"y":0.01},{"t":0.14,"y":0.024},{"t":0.14,"y":0.013},{"t":0.1425,"y":0.018},{"t":0.1425,"y":0.009},{"t":0.145,"y":0.02},{"t":0.145,"y":0.011},{"t":0.1475,"y":0.016},{"t":0.1475,"y":0.007},{"t":0.15,"y":0.022},{"t":0.15,"y":0.012},{"t":0.1525,"y":0.019},{"t":0.1525,"y":0.01},{"t":0.155,"y":0.017},{"t":0.155,"y":0.013},{"t":0.1575,"y":0.021},{"t":0.1575,"y":0.009},{"t":0.16,"y":0.018},{"t":0.16,"y":0.011},{"t":0.1625,"y":0.02},{"t":0.1625,"y":0.013},{"t":0.165,"y":0.016},{"t":0.165,"y":0.01},{"t":0.1675,"y":0.019},{"t":0.1675,"y":0.012},{"t":0.17,"y":0.021},{"t":0.17,"y":0.009},{"t":0.1725,"y":0.017},{"t":0.1725,"y":0.011},{"t":0.175,"y":0.019},{"t":0.175,"y":0.013},{"t":0.1775,"y":0.016},{"t":0.1775,"y":0.01},{"t":0.18,"y":0.018},{"t":0.18,"y":0.012},{"t":0.1825,"y":0.02},{"t":0.1825,"y":0.011},{"t":0.185,"y":0.017},{"t":0.185,"y":0.013},{"t":0.1875,"y":0.019},{"t":0.1875,"y":0.01},{"t":0.19,"y":0.016},{"t":0.19,"y":0.012},{"t":0.1925,"y":0.018},{"t":0.1925,"y":0.011},{"t":0.195,"y":0.02},{"t":0.195,"y":0.013},{"t":0.1975,"y":0.017},{"t":0.1975,"y":0.01},
{"t":0.2,"y":0.0181},{"t":0.204,"y":0.0124},{"t":0.208,"y":0.0146},{"t":0.212,"y":0.0105},{"t":0.216,"y":0.0169},{"t":0.22,"y":0.0139},{"t":0.224,"y":0.0158},{"t":0.228,"y":0.0112},{"t":0.232,"y":0.015},{"t":0.236,"y":0.0173},
{"t":0.24,"y":0.0127},{"t":0.244,"y":0.0186},{"t":0.248,"y":0.012},{"t":0.252,"y":0.0142},{"t":0.256,"y":0.0101},{"t":0.26,"y":0.0161},{"t":0.264,"y":0.0133},{"t":0.268,"y":0.0171},{"t":0.272,"y":0.0115},{"t":0.276,"y":0.0152},
{"t":0.28,"y":0.0136},{"t":0.284,"y":0.0176},{"t":0.288,"y":0.011},{"t":0.292,"y":0.0156},{"t":0.296,"y":0.0094},{"t":0.3,"y":0.0149},{"t":0.304,"y":0.0167},{"t":0.308,"y":0.0128},{"t":0.312,"y":0.018},{"t":0.316,"y":0.0121},
{"t":0.32,"y":0.0145},{"t":0.324,"y":0.0106},{"t":0.328,"y":0.0162},{"t":0.332,"y":0.0132},{"t":0.336,"y":0.0183},{"t":0.34,"y":0.0114},{"t":0.344,"y":0.0153},{"t":0.348,"y":0.0138},{"t":0.352,"y":0.017},{"t":0.356,"y":0.0098},
{"t":0.36,"y":0.0157},{"t":0.364,"y":0.0125},{"t":0.368,"y":0.0178},{"t":0.372,"y":0.0135},{"t":0.376,"y":0.0164},{"t":0.38,"y":0.0109},{"t":0.384,"y":0.0147},{"t":0.388,"y":0.0185},{"t":0.392,"y":0.0119},{"t":0.396,"y":0.0141},
{"t":0.4,"y":0.0104},{"t":0.404,"y":0.0168},{"t":0.408,"y":0.013},{"t":0.412,"y":0.0154},{"t":0.416,"y":0.0113},{"t":0.42,"y":0.0174},{"t":0.424,"y":0.0137},{"t":0.428,"y":0.016},{"t":0.432,"y":0.0092},{"t":0.436,"y":0.0151},
{"t":0.44,"y":0.0179},{"t":0.444,"y":0.0123},{"t":0.448,"y":0.0144},{"t":0.452,"y":0.0116},{"t":0.456,"y":0.0171},{"t":0.46,"y":0.0131},{"t":0.464,"y":0.0155},{"t":0.468,"y":0.0102},{"t":0.472,"y":0.0165},{"t":0.476,"y":0.0139},
{"t":0.48,"y":0.0182},{"t":0.484,"y":0.0126},{"t":0.488,"y":0.0148},{"t":0.492,"y":0.0107},{"t":0.496,"y":0.0159},{"t":0.5,"y":0.0134},{"t":0.504,"y":0.0175},{"t":0.508,"y":0.0118},{"t":0.512,"y":0.0152},{"t":0.516,"y":0.0111},
{"t":0.52,"y":0.0142},{"t":0.524,"y":0.0184},{"t":0.528,"y":0.0122},{"t":0.532,"y":0.0167},{"t":0.536,"y":0.01},{"t":0.54,"y":0.015},{"t":0.544,"y":0.0137},{"t":0.548,"y":0.0163},{"t":0.552,"y":0.0129},{"t":0.556,"y":0.0177},
{"t":0.56,"y":0.0115},{"t":0.564,"y":0.0146},{"t":0.568,"y":0.0096},{"t":0.572,"y":0.0172},{"t":0.576,"y":0.0133},{"t":0.58,"y":0.0156},{"t":0.584,"y":0.012},{"t":0.588,"y":0.0181},{"t":0.592,"y":0.0127},{"t":0.596,"y":0.0143},
{"t":0.6,"y":0.0168},{"t":0.604,"y":0.0121},{"t":0.608,"y":0.0147},{"t":0.612,"y":0.0102},{"t":0.616,"y":0.0154},{"t":0.62,"y":0.0183},{"t":0.624,"y":0.0129},{"t":0.628,"y":0.0109},{"t":0.632,"y":0.0143},{"t":0.636,"y":0.0164},
{"t":0.64,"y":0.0133},{"t":0.644,"y":0.0176},{"t":0.648,"y":0.0115},{"t":0.652,"y":0.015},{"t":0.656,"y":0.0095},{"t":0.66,"y":0.0158},{"t":0.664,"y":0.0138},{"t":0.668,"y":0.0171},{"t":0.672,"y":0.0124},{"t":0.676,"y":0.0145},
{"t":0.68,"y":0.0112},{"t":0.684,"y":0.018},{"t":0.688,"y":0.0127},{"t":0.692,"y":0.0161},{"t":0.696,"y":0.0135},{"t":0.7,"y":0.0152},{"t":0.704,"y":0.0106},{"t":0.708,"y":0.0166},{"t":0.712,"y":0.0131},{"t":0.716,"y":0.0187},
{"t":0.72,"y":0.0119},{"t":0.724,"y":0.0141},{"t":0.728,"y":0.0173},{"t":0.732,"y":0.01},{"t":0.736,"y":0.0156},{"t":0.74,"y":0.0134},{"t":0.744,"y":0.0169},{"t":0.748,"y":0.0123},{"t":0.752,"y":0.0148},{"t":0.756,"y":0.0114},
{"t":0.76,"y":0.0178},{"t":0.764,"y":0.0137},{"t":0.768,"y":0.0159},{"t":0.772,"y":0.0096},{"t":0.776,"y":0.0151},{"t":0.78,"y":0.0165},{"t":0.784,"y":0.0126},{"t":0.788,"y":0.0142},{"t":0.792,"y":0.011},{"t":0.796,"y":0.0175},
{"t":0.8,"y":0.0128},{"t":0.804,"y":0.0162},{"t":0.808,"y":0.0104},{"t":0.812,"y":0.0149},{"t":0.816,"y":0.0184},{"t":0.82,"y":0.0117},{"t":0.824,"y":0.0144},{"t":0.828,"y":0.0132},{"t":0.832,"y":0.017},{"t":0.836,"y":0.0099},
{"t":0.84,"y":0.0155},{"t":0.844,"y":0.0139},{"t":0.848,"y":0.0167},{"t":0.852,"y":0.0121},{"t":0.856,"y":0.0146},{"t":0.86,"y":0.0107},{"t":0.864,"y":0.0179},{"t":0.868,"y":0.013},{"t":0.872,"y":0.016},{"t":0.876,"y":0.0113},
{"t":0.88,"y":0.0153},{"t":0.884,"y":0.0093},{"t":0.888,"y":0.0172},{"t":0.892,"y":0.0136},{"t":0.896,"y":0.0157},{"t":0.9,"y":0.0125},{"t":0.904,"y":0.0182},{"t":0.908,"y":0.0111},{"t":0.912,"y":0.014},{"t":0.916,"y":0.0163},
{"t":0.92,"y":0.0103},{"t":0.924,"y":0.0151},{"t":0.928,"y":0.0134},{"t":0.932,"y":0.0174},{"t":0.936,"y":0.0118},{"t":0.94,"y":0.0148},{"t":0.944,"y":0.0185},{"t":0.948,"y":0.0122},{"t":0.952,"y":0.0166},{"t":0.956,"y":0.0138},
{"t":0.96,"y":0.0108},{"t":0.964,"y":0.0159},{"t":0.968,"y":0.0129},{"t":0.972,"y":0.0177},{"t":0.976,"y":0.0097},{"t":0.98,"y":0.0143},{"t":0.984,"y":0.0164},{"t":0.988,"y":0.0131},{"t":0.992,"y":0.0154},{"t":0.996,"y":0.0116},{"t":1,"y":0.0166}
],
"resE":[
{"t":0,"r":0.02},{"t":0.003,"r":-0.035},{"t":0.006,"r":0.042},{"t":0.009,"r":-0.03},{"t":0.012,"r":0.038},{"t":0.015,"r":-0.04},{"t":0.018,"r":0.03},{"t":0.021,"r":-0.036},{"t":0.024,"r":0.041},{"t":0.027,"r":-0.028},{"t":0.03,"r":0.035},{"t":0.033,"r":-0.038},{"t":0.036,"r":0.026},{"t":0.039,"r":-0.032},{"t":0.042,"r":0.03},{"t":0.045,"r":-0.025},{"t":0.048,"r":0.028},{"t":0.051,"r":-0.03},{"t":0.054,"r":0.022},{"t":0.057,"r":-0.024},{"t":0.06,"r":0.025},{"t":0.063,"r":-0.02},{"t":0.066,"r":0.018},{"t":0.069,"r":-0.022},{"t":0.072,"r":0.012},{"t":0.075,"r":-0.014},{"t":0.078,"r":0.008},{"t":0.081,"r":-0.01},{"t":0.084,"r":0.006},{"t":0.087,"r":-0.005},{"t":0.09,"r":0.004},{"t":0.093,"r":-0.003},{"t":0.096,"r":0.006},{"t":0.099,"r":-0.008},{"t":0.102,"r":0.011},{"t":0.105,"r":-0.012},{"t":0.108,"r":0.013},{"t":0.111,"r":-0.011},{"t":0.114,"r":0.012},{"t":0.117,"r":-0.013},{"t":0.12,"r":0.011},{"t":0.123,"r":-0.01},{"t":0.126,"r":0.012},{"t":0.129,"r":-0.011},{"t":0.132,"r":0.01},{"t":0.135,"r":-0.012},{"t":0.138,"r":0.009},{"t":0.141,"r":-0.01},{"t":0.144,"r":0.011},{"t":0.147,"r":-0.009},{"t":0.15,"r":0.008},{"t":0.153,"r":-0.009},{"t":0.156,"r":0.007},{"t":0.159,"r":-0.008},{"t":0.162,"r":0.006},{"t":0.165,"r":-0.007},{"t":0.168,"r":0.005},{"t":0.171,"r":-0.006},{"t":0.174,"r":0.005},{"t":0.177,"r":-0.004},{"t":0.18,"r":0.004},
{"t":0.19,"r":-0.003},{"t":0.2,"r":0.004},{"t":0.21,"r":-0.002},{"t":0.22,"r":0.003},{"t":0.23,"r":-0.004},{"t":0.24,"r":0.002},{"t":0.25,"r":-0.003},{"t":0.26,"r":0.004},{"t":0.27,"r":-0.002},{"t":0.28,"r":0.003},{"t":0.29,"r":-0.003},{"t":0.3,"r":0.002},{"t":0.31,"r":-0.004},{"t":0.32,"r":0.003},{"t":0.33,"r":-0.002},{"t":0.34,"r":0.004},{"t":0.35,"r":-0.003},{"t":0.36,"r":0.002},{"t":0.37,"r":-0.002},{"t":0.38,"r":0.003},{"t":0.39,"r":-0.003},{"t":0.4,"r":0.004},{"t":0.41,"r":-0.002},{"t":0.42,"r":0.003},{"t":0.43,"r":-0.004},{"t":0.44,"r":0.002},{"t":0.45,"r":-0.003},{"t":0.46,"r":0.003},{"t":0.47,"r":-0.002},{"t":0.48,"r":0.004},{"t":0.49,"r":-0.003},{"t":0.5,"r":0.002},{"t":0.51,"r":-0.003},{"t":0.52,"r":0.005},{"t":0.53,"r":-0.002},{"t":0.54,"r":0.003},{"t":0.55,"r":-0.004},{"t":0.56,"r":0.002},{"t":0.57,"r":-0.002},{"t":0.58,"r":0.003},{"t":0.59,"r":-0.003},{"t":0.6,"r":0.004},{"t":0.61,"r":-0.002},{"t":0.62,"r":0.003},{"t":0.63,"r":-0.003},{"t":0.64,"r":0.002},{"t":0.65,"r":-0.004},{"t":0.66,"r":0.005},{"t":0.67,"r":-0.002},{"t":0.68,"r":0.003},{"t":0.69,"r":-0.003},{"t":0.7,"r":0.002},{"t":0.71,"r":-0.003},{"t":0.72,"r":0.004},{"t":0.73,"r":-0.002},{"t":0.74,"r":0.005},{"t":0.75,"r":-0.003},{"t":0.76,"r":0.002},{"t":0.77,"r":-0.004},{"t":0.78,"r":0.003},{"t":0.79,"r":-0.002},{"t":0.8,"r":0.004},{"t":0.81,"r":-0.003},{"t":0.82,"r":0.002},{"t":0.83,"r":-0.003},{"t":0.84,"r":0.003},{"t":0.85,"r":-0.002},{"t":0.86,"r":0.004},{"t":0.87,"r":-0.003},{"t":0.88,"r":0.005},{"t":0.89,"r":-0.002},{"t":0.9,"r":0.003},{"t":0.91,"r":-0.004},{"t":0.92,"r":0.002},{"t":0.93,"r":-0.003},{"t":0.94,"r":0.003},{"t":0.95,"r":-0.002},{"t":0.96,"r":0.004},{"t":0.97,"r":-0.003},{"t":0.98,"r":0.002},{"t":0.99,"r":-0.003},{"t":1,"r":0.001}
],
"resF":[
{"t":0,"r":0.025},{"t":0.003,"r":-0.03},{"t":0.006,"r":0.04},{"t":0.009,"r":-0.038},{"t":0.012,"r":0.033},{"t":0.015,"r":-0.035},{"t":0.018,"r":0.036},{"t":0.021,"r":-0.031},{"t":0.024,"r":0.038},{"t":0.027,"r":-0.033},{"t":0.03,"r":0.03},{"t":0.033,"r":-0.036},{"t":0.036,"r":0.027},{"t":0.039,"r":-0.029},{"t":0.042,"r":0.024},{"t":0.045,"r":-0.027},{"t":0.048,"r":0.026},{"t":0.051,"r":-0.023},{"t":0.054,"r":0.021},{"t":0.057,"r":-0.022},{"t":0.06,"r":0.018},{"t":0.063,"r":-0.017},{"t":0.066,"r":0.014},{"t":0.069,"r":-0.012},{"t":0.072,"r":0.007},{"t":0.075,"r":-0.006},{"t":0.078,"r":0.005},{"t":0.081,"r":-0.004},{"t":0.084,"r":0.006},{"t":0.087,"r":-0.007},{"t":0.09,"r":0.009},{"t":0.093,"r":-0.011},{"t":0.096,"r":0.012},{"t":0.099,"r":-0.013},{"t":0.102,"r":0.012},{"t":0.105,"r":-0.011},{"t":0.108,"r":0.013},{"t":0.111,"r":-0.012},{"t":0.114,"r":0.011},{"t":0.117,"r":-0.012},{"t":0.12,"r":0.01},{"t":0.123,"r":-0.011},{"t":0.126,"r":0.01},{"t":0.129,"r":-0.009},{"t":0.132,"r":0.009},{"t":0.135,"r":-0.01},{"t":0.138,"r":0.008},{"t":0.141,"r":-0.008},{"t":0.144,"r":0.007},{"t":0.147,"r":-0.007},{"t":0.15,"r":0.006},{"t":0.153,"r":-0.006},{"t":0.156,"r":0.005},{"t":0.159,"r":-0.005},{"t":0.162,"r":0.004},{"t":0.165,"r":-0.004},{"t":0.168,"r":0.004},{"t":0.171,"r":-0.003},
{"t":0.18,"r":0.003},{"t":0.19,"r":-0.002},{"t":0.2,"r":0.003},{"t":0.21,"r":-0.003},{"t":0.22,"r":0.002},{"t":0.23,"r":-0.002},{"t":0.24,"r":0.004},{"t":0.25,"r":-0.003},{"t":0.26,"r":0.002},{"t":0.27,"r":-0.003},{"t":0.28,"r":0.003},{"t":0.29,"r":-0.002},{"t":0.3,"r":0.002},{"t":0.31,"r":-0.003},{"t":0.32,"r":0.004},{"t":0.33,"r":-0.002},{"t":0.34,"r":0.003},{"t":0.35,"r":-0.004},{"t":0.36,"r":0.002},{"t":0.37,"r":-0.002},{"t":0.38,"r":0.003},{"t":0.39,"r":-0.003},{"t":0.4,"r":0.002},{"t":0.41,"r":-0.003},{"t":0.42,"r":0.004},{"t":0.43,"r":-0.002},{"t":0.44,"r":0.003},{"t":0.45,"r":-0.003},{"t":0.46,"r":0.002},{"t":0.47,"r":-0.004},{"t":0.48,"r":0.003},{"t":0.49,"r":-0.002},{"t":0.5,"r":0.003},{"t":0.51,"r":-0.003},{"t":0.52,"r":0.002},{"t":0.53,"r":-0.002},{"t":0.54,"r":0.004},{"t":0.55,"r":-0.003},{"t":0.56,"r":0.003},{"t":0.57,"r":-0.002},{"t":0.58,"r":0.002},{"t":0.59,"r":-0.004},{"t":0.6,"r":0.003},{"t":0.61,"r":-0.002},{"t":0.62,"r":0.004},{"t":0.63,"r":-0.003},{"t":0.64,"r":0.002},{"t":0.65,"r":-0.003},{"t":0.66,"r":0.003},{"t":0.67,"r":-0.002},{"t":0.68,"r":0.004},{"t":0.69,"r":-0.003},{"t":0.7,"r":0.002},{"t":0.71,"r":-0.004},{"t":0.72,"r":0.003},{"t":0.73,"r":-0.002},{"t":0.74,"r":0.003},{"t":0.75,"r":-0.003},{"t":0.76,"r":0.004},{"t":0.77,"r":-0.002},{"t":0.78,"r":0.002},{"t":0.79,"r":-0.003},{"t":0.8,"r":0.003},{"t":0.81,"r":-0.004},{"t":0.82,"r":0.004},{"t":0.83,"r":-0.002},{"t":0.84,"r":0.003},{"t":0.85,"r":-0.003},{"t":0.86,"r":0.002},{"t":0.87,"r":-0.002},{"t":0.88,"r":0.003},{"t":0.89,"r":-0.003},{"t":0.9,"r":0.004},{"t":0.91,"r":-0.002},{"t":0.92,"r":0.003},{"t":0.93,"r":-0.004},{"t":0.94,"r":0.002},{"t":0.95,"r":-0.003},{"t":0.96,"r":0.003},{"t":0.97,"r":-0.002},{"t":0.98,"r":0.003},{"t":0.99,"r":-0.002},{"t":1,"r":0.001}
],
"bar":[{"t":1.05,"lo":-0.04,"hi":0.04}],
"heads":[{"t":1.05,"r":0.04,"end":"top"},{"t":1.05,"r":-0.04,"end":"bottom"}],
"scaleLabel":[{"t":1.072,"r":0.0135,"txt":"0.08"}],
"zero":[{"r":0}]
},
"spacing":25,
"vconcat":[
{"spacing":16,"vconcat":[
{"bounds":"flush","spacing":94,"hconcat":[
{"width":289,"height":192,"data":{"name":"specA"},
"title":{"text":"A","anchor":"start","frame":"group","offset":0,"dx":6,"dy":35,"fontSize":22,"font":"Liberation Sans","fontWeight":"bold","color":"black"},
"layer":[
{"mark":{"type":"line","color":"black","strokeWidth":1},
"encoding":{"x":{"field":"w","type":"quantitative","scale":{"domain":[350,500],"nice":false},"axis":{"orient":"bottom","values":[350,400,450,500],"title":"Wavelength, nm","titleX":331,"titleY":42,"titleBaseline":"middle"}},
"y":{"field":"y","type":"quantitative","scale":{"domain":[-0.04,0.04],"nice":false},"axis":{"orient":"left","values":[-0.04,-0.02,0,0.02,0.04],"format":".2f","title":"Absorbance","titleX":-56,"titleY":96,"titleBaseline":"middle"}},
"detail":{"field":"c","type":"nominal"}}},
{"mark":{"type":"line","strokeOpacity":0},
"encoding":{"x":{"field":"w","type":"quantitative","axis":{"orient":"top","values":[400,450],"labels":false,"title":null}},
"y":{"field":"y","type":"quantitative","axis":{"orient":"right","values":[-0.02,0,0.02],"labels":false,"title":null}},
"detail":{"field":"c","type":"nominal"}}}
],
"resolve":{"axis":{"x":"independent","y":"independent"}}},
{"width":281,"height":192,"data":{"name":"specB"},
"title":{"text":"B","anchor":"start","frame":"group","offset":0,"dx":6,"dy":34,"fontSize":22,"font":"Liberation Sans","fontWeight":"bold","color":"black"},
"layer":[
{"mark":{"type":"line","color":"black","strokeWidth":1},
"encoding":{"x":{"field":"w","type":"quantitative","scale":{"domain":[350,500],"nice":false},"axis":{"orient":"bottom","values":[350,400,450,500],"title":null}},
"y":{"field":"y","type":"quantitative","scale":{"domain":[-0.01,0.02],"nice":false},"axis":{"orient":"left","values":[-0.01,-0.005,0,0.005,0.01,0.015,0.02],"format":".3f","title":"Absorbance","titleX":-65,"titleY":96,"titleBaseline":"middle"}},
"detail":{"field":"c","type":"nominal"}}},
{"mark":{"type":"line","strokeOpacity":0},
"encoding":{"x":{"field":"w","type":"quantitative","axis":{"orient":"top","values":[400,450],"labels":false,"title":null}},
"y":{"field":"y","type":"quantitative","axis":{"orient":"right","values":[-0.005,0,0.005,0.01,0.015],"labels":false,"title":null}},
"detail":{"field":"c","type":"nominal"}}}
],
"resolve":{"axis":{"x":"independent","y":"independent"}}}
]},
{"bounds":"flush","spacing":86,"hconcat":[
{"width":288,"height":192,
"title":{"text":"C","anchor":"start","frame":"group","offset":0,"dx":5,"dy":39,"fontSize":25,"font":"Open Sans","fontWeight":800,"color":"black"},
"layer":[
{"data":{"name":"ptsC"},"mark":{"type":"point","filled":true,"color":"black","size":55,"opacity":1},
"encoding":{"x":{"field":"x","type":"quantitative","scale":{"domain":[0,60],"nice":false},"axis":{"orient":"bottom","values":[0,20,40,60],"title":"[Deoxycorticosterone], μM","titleY":38,"titleBaseline":"middle"}},
"y":{"field":"y","type":"quantitative","scale":{"domain":[0,0.04],"nice":false},"axis":{"orient":"left","values":[0,0.01,0.02,0.03,0.04],"format":".2f","title":"ΔA₃₉₀-A₄₁₈","titleX":-56,"titleY":96,"titleBaseline":"middle"}}}},
{"data":{"name":"fitC"},"mark":{"type":"line","color":"black","strokeWidth":2.5},
"encoding":{"x":{"field":"x","type":"quantitative","axis":{"orient":"top","values":[20,40],"labels":false,"title":null}},
"y":{"field":"y","type":"quantitative","axis":{"orient":"right","values":[0.01,0.02,0.03],"labels":false,"title":null}}}}
],
"resolve":{"axis":{"x":"independent","y":"independent"}}},
{"width":288,"height":192,
"title":{"text":"D","anchor":"start","frame":"group","offset":0,"dx":9,"dy":42,"fontSize":25,"font":"Open Sans","fontWeight":800,"color":"black"},
"layer":[
{"data":{"name":"ptsD"},"mark":{"type":"point","filled":true,"color":"black","size":55,"opacity":1},
"encoding":{"x":{"field":"x","type":"quantitative","scale":{"domain":[0,30],"nice":false},"axis":{"orient":"bottom","values":[0,10,20,30],"title":"[11-Deoxycortisol], μM","titleY":38,"titleBaseline":"middle"}},
"y":{"field":"y","type":"quantitative","scale":{"domain":[0,0.008],"nice":false},"axis":{"orient":"left","values":[0,0.002,0.004,0.006,0.008],"format":".3f","title":"ΔA₃₉₀-A₄₁₈","titleX":-61,"titleY":96,"titleBaseline":"middle"}}}},
{"data":{"name":"fitD"},"mark":{"type":"line","color":"black","strokeWidth":2.5},
"encoding":{"x":{"field":"x","type":"quantitative","axis":{"orient":"top","values":[10,20],"labels":false,"title":null}},
"y":{"field":"y","type":"quantitative","axis":{"orient":"right","values":[0.002,0.004,0.006],"labels":false,"title":null}}}}
],
"resolve":{"axis":{"x":"independent","y":"independent"}}}
]}
]},
{"spacing":-1,"vconcat":[
{"bounds":"flush","spacing":87,"hconcat":[
{"width":287,"height":58,"view":{"stroke":"#444","strokeWidth":1},
"layer":[
{"data":{"name":"zero"},"mark":{"type":"rule","color":"#777","strokeWidth":1},"encoding":{"y":{"field":"r","type":"quantitative","scale":{"domain":[-0.0475,0.0475],"nice":false},"axis":null}}},
{"data":{"name":"resE"},"mark":{"type":"line","color":"black","strokeWidth":1},
"encoding":{"x":{"field":"t","type":"quantitative","scale":{"domain":[0,1.2],"nice":false},"axis":{"orient":"bottom","values":[0.5,1],"labels":false,"title":null,"tickSize":-4,"tickWidth":1,"tickColor":"#444"}},
"y":{"field":"r","type":"quantitative","axis":{"orient":"left","values":[-0.025,0.025],"labels":false,"title":null,"tickSize":-4,"tickWidth":1,"tickColor":"#444"}}}},
{"data":{"name":"bar"},"mark":{"type":"rule","color":"black","strokeWidth":1.5},
"encoding":{"x":{"field":"t","type":"quantitative","axis":{"orient":"top","values":[0.5,1],"labels":false,"title":null,"tickSize":-4,"tickWidth":1,"tickColor":"#444"}},
"y":{"field":"lo","type":"quantitative","axis":{"orient":"right","values":[-0.025,-0.01,0.025],"labels":false,"title":null,"tickSize":-4,"tickWidth":1,"tickColor":"#444"}},"y2":{"field":"hi"}}},
{"data":{"name":"heads"},"mark":{"type":"point","filled":true,"color":"black","size":30,"opacity":1},
"encoding":{"x":{"field":"t","type":"quantitative","axis":null},"y":{"field":"r","type":"quantitative","axis":null},
"shape":{"field":"end","type":"nominal","scale":{"domain":["top","bottom"],"range":["triangle-up","triangle-down"]},"legend":null}}},
{"data":{"name":"scaleLabel"},"mark":{"type":"text","align":"left","baseline":"middle","fontSize":14,"font":"Liberation Sans","color":"black"},
"encoding":{"x":{"field":"t","type":"quantitative","axis":null},"y":{"field":"r","type":"quantitative","axis":null},"text":{"field":"txt"}}}
],
"resolve":{"axis":{"x":"independent","y":"independent"}}},
{"width":287,"height":58,"view":{"stroke":"#444","strokeWidth":1},
"layer":[
{"data":{"name":"zero"},"mark":{"type":"rule","color":"#777","strokeWidth":1},"encoding":{"y":{"field":"r","type":"quantitative","scale":{"domain":[-0.0475,0.0475],"nice":false},"axis":null}}},
{"data":{"name":"resF"},"mark":{"type":"line","color":"black","strokeWidth":1},
"encoding":{"x":{"field":"t","type":"quantitative","scale":{"domain":[0,1.2],"nice":false},"axis":{"orient":"bottom","values":[0.5,1],"labels":false,"title":null,"tickSize":-4,"tickWidth":1,"tickColor":"#444"}},
"y":{"field":"r","type":"quantitative","axis":{"orient":"left","values":[-0.025,0.025],"labels":false,"title":null,"tickSize":-4,"tickWidth":1,"tickColor":"#444"}}}},
{"data":{"name":"bar"},"mark":{"type":"rule","color":"black","strokeWidth":1.5},
"encoding":{"x":{"field":"t","type":"quantitative","axis":{"orient":"top","values":[0.5,1],"labels":false,"title":null,"tickSize":-4,"tickWidth":1,"tickColor":"#444"}},
"y":{"field":"lo","type":"quantitative","axis":{"orient":"right","values":[-0.025,-0.01,0.025],"labels":false,"title":null,"tickSize":-4,"tickWidth":1,"tickColor":"#444"}},"y2":{"field":"hi"}}},
{"data":{"name":"heads"},"mark":{"type":"point","filled":true,"color":"black","size":30,"opacity":1},
"encoding":{"x":{"field":"t","type":"quantitative","axis":null},"y":{"field":"r","type":"quantitative","axis":null},
"shape":{"field":"end","type":"nominal","scale":{"domain":["top","bottom"],"range":["triangle-up","triangle-down"]},"legend":null}}},
{"data":{"name":"scaleLabel"},"mark":{"type":"text","align":"left","baseline":"middle","fontSize":14,"font":"Liberation Sans","color":"black"},
"encoding":{"x":{"field":"t","type":"quantitative","axis":null},"y":{"field":"r","type":"quantitative","axis":null},"text":{"field":"txt"}}}
],
"resolve":{"axis":{"x":"independent","y":"independent"}}}
]},
{"bounds":"flush","spacing":87,"hconcat":[
{"width":287,"height":191,
"title":{"text":"E","anchor":"start","frame":"group","offset":0,"dx":8,"dy":35,"fontSize":21,"font":"Open Sans","fontWeight":800,"color":"black"},
"layer":[
{"data":{"name":"scatE"},"mark":{"type":"square","filled":true,"color":"black","size":4,"opacity":1},
"encoding":{"x":{"field":"t","type":"quantitative","scale":{"domain":[0,1],"nice":false},"axis":{"orient":"bottom","values":[0,0.2,0.4,0.6,0.8,1],"format":".1f","title":"Time, s","titleX":321,"titleY":38,"titleBaseline":"middle","titleFontSize":17}},
"y":{"field":"y","type":"quantitative","scale":{"domain":[-0.04,0.06],"nice":false},"axis":{"orient":"left","values":[-0.04,-0.02,0,0.02,0.04,0.06],"format":".2f","title":"A₃₉₀","titleX":-56,"titleY":95,"titleBaseline":"middle"}}}},
{"data":{"name":"fitE"},"mark":{"type":"line","color":"black","strokeWidth":3},
"encoding":{"x":{"field":"t","type":"quantitative","axis":{"orient":"top","values":[0.2,0.4,0.6,0.8],"labels":false,"title":null}},
"y":{"field":"y","type":"quantitative","axis":{"orient":"right","values":[-0.02,0,0.02,0.04],"labels":false,"title":null}}}}
],
"resolve":{"axis":{"x":"independent","y":"independent"}}},
{"width":287,"height":191,
"title":{"text":"F","anchor":"start","frame":"group","offset":0,"dx":8,"dy":35,"fontSize":21,"font":"Open Sans","fontWeight":800,"color":"black"},
"layer":[
{"data":{"name":"scatF"},"mark":{"type":"square","filled":true,"color":"black","size":4,"opacity":1},
"encoding":{"x":{"field":"t","type":"quantitative","scale":{"domain":[0,1],"nice":false},"axis":{"orient":"bottom","values":[0,0.2,0.4,0.6,0.8,1],"format":".1f","title":null}},
"y":{"field":"y","type":"quantitative","scale":{"domain":[-0.04,0.06],"nice":false},"axis":{"orient":"left","values":[-0.04,-0.02,0,0.02,0.04,0.06],"format":".2f","title":null}}}},
{"data":{"name":"fitF"},"mark":{"type":"line","color":"black","strokeWidth":3},
"encoding":{"x":{"field":"t","type":"quantitative","axis":{"orient":"top","values":[0.2,0.4,0.6,0.8],"labels":false,"title":null}},
"y":{"field":"y","type":"quantitative","axis":{"orient":"right","values":[-0.02,0,0.02,0.04],"labels":false,"title":null}}}}
],
"resolve":{"axis":{"x":"independent","y":"independent"}}}
]}
]}
]
}
